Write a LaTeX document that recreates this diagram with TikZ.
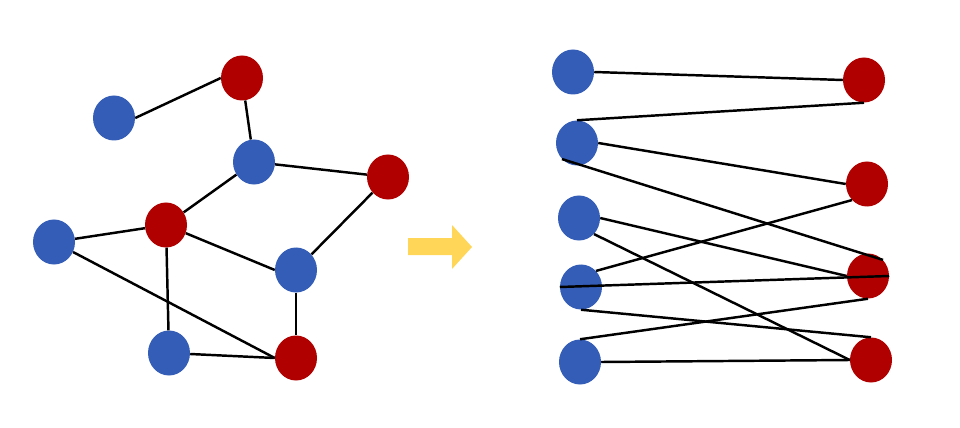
\documentclass[tikz,border=0pt]{standalone}
\usetikzlibrary{shapes.geometric}
\definecolor{nodeblue}{HTML}{345DB8}
\definecolor{nodered}{HTML}{B00000}
\definecolor{arrowyellow}{HTML}{FFD658}
\begin{document}
\begin{tikzpicture}[x=0.03cm, y=-0.03cm,
    vertex/.style={ellipse, minimum width=1.26cm, minimum height=1.35cm, inner sep=0pt},
    bluev/.style={vertex, fill=nodeblue},
    redv/.style={vertex, fill=nodered},
    edge/.style={line width=2.1pt, black}]
    \useasboundingbox (0,0) rectangle (960,428);

    \node[bluev] (b1) at (114,118) {};
    \node[redv] (r1) at (242,78) {};
    \node[bluev] (b2) at (254,162) {};
    \node[redv] (r2) at (388,177) {};
    \node[redv] (r3) at (166,225) {};
    \node[bluev] (b3) at (54,242) {};
    \node[bluev] (b4) at (296,270) {};
    \node[bluev] (b5) at (169,353) {};
    \node[redv] (r4) at (296,358) {};

    \draw[edge] (b1.east) -- (r1.west);
    \draw[edge] (r1) -- (b2);
    \draw[edge] (b2) -- (r2);
    \draw[edge] (b2) -- (r3);
    \draw[edge] (r3) -- (b3);
    \draw[edge] (r3) -- (b4.west);
    \draw[edge] (r2) -- (b4);
    \draw[edge] (b4) -- (r4);
    \draw[edge] (r3) -- (b5);
    \draw[edge] (b5) -- (r4.west);
    \draw[edge] (b3) -- (r4.west);

    \fill[arrowyellow] (408,238) -- (452,238) -- (452,225) -- (472,247)
        -- (452,269) -- (452,255) -- (408,255) -- cycle;

    \node[bluev] (l1) at (573,72) {};
    \node[bluev] (l2) at (577,143) {};
    \node[bluev] (l3) at (579,218) {};
    \node[bluev] (l4) at (581,287) {};
    \node[bluev] (l5) at (580,362) {};
    \node[redv] (s1) at (864,80) {};
    \node[redv] (s2) at (867,184) {};
    \node[redv] (s3) at (868,276) {};
    \node[redv] (s4) at (871,360) {};

    \draw[edge] (l1.east) -- (s1.west);
    \draw[edge] (s1.south) -- (l2.north);
    \draw[edge] (l2.east) -- (s2.west);
    \draw[edge] (l2.south west) -- (s3.north east);
    \draw[edge] (s2.south west) -- (l4.north east);
    \draw[edge] (l3.east) -- (s3.west);
    \draw[edge] (l3.south east) -- (s4.west);
    \draw[edge] (l4.west) -- (s3.east);
    \draw[edge] (s3.south) -- (l5.north);
    \draw[edge] (l4.south) -- (s4.north);
    \draw[edge] (l5.east) -- (s4.west);
\end{tikzpicture}
\end{document}
